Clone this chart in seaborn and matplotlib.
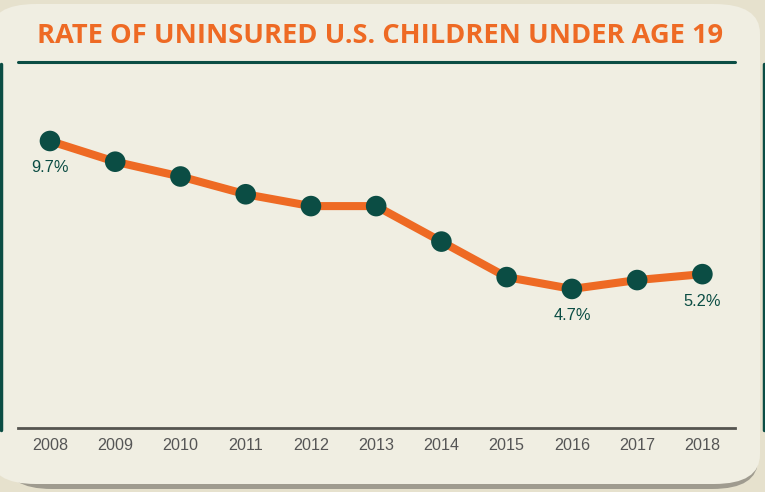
import numpy as np
import pandas as pd
import matplotlib
matplotlib.use("Agg")
import matplotlib.pyplot as plt
import seaborn as sns
from matplotlib.patches import FancyBboxPatch
from matplotlib.lines import Line2D

years = ["2008", "2009", "2010", "2011", "2012", "2013", "2014", "2015", "2016", "2017", "2018"]
rates = [9.7, 9.0, 8.5, 7.9, 7.5, 7.5, 6.3, 5.1, 4.7, 5.0, 5.2]
labelled = {"2008": "9.7%", "2016": "4.7%", "2018": "5.2%"}

orange = "#ee6a24"
green = "#0b4d44"
card = "#f0eee2"

sns.set_style("white")
plt.rcParams["font.family"] = ["Liberation Sans", "DejaVu Sans"]

fig = plt.figure(figsize=(7.65, 4.92), dpi=100)
fig.patch.set_facecolor("#e6e1cd")
W, H = 765, 492

# card with shadow
fig.add_artist(FancyBboxPatch((6 / W, 3 / H), 752 / W, 478 / H,
                              boxstyle="round,pad=0,rounding_size=0.06",
                              transform=fig.transFigure, fc="#8d8a80", ec="none", alpha=0.8, zorder=0))
fig.add_artist(FancyBboxPatch((-10 / W, 8 / H), 770 / W, 480 / H,
                              boxstyle="round,pad=0,rounding_size=0.06",
                              transform=fig.transFigure, fc=card, ec="none", zorder=0))
# green side bars
fig.add_artist(Line2D([1 / W, 1 / W], [1 - 64 / H, 1 - 430 / H], color=green, lw=2.5, transform=fig.transFigure))
fig.add_artist(Line2D([764 / W, 764 / W], [1 - 64 / H, 1 - 430 / H], color=green, lw=2.5, transform=fig.transFigure))
# title rule
fig.add_artist(Line2D([18 / W, 735 / W], [1 - 61.5 / H, 1 - 61.5 / H], color=green, lw=2.2, transform=fig.transFigure))

fig.text(380 / W, 1 - 36 / H, "RATE OF UNINSURED U.S. CHILDREN UNDER AGE 19",
         ha="center", va="center", color=orange, fontsize=19.6, fontweight="bold",
         family=["Open Sans", "DejaVu Sans"])

ax = fig.add_axes([18 / W, 1 - 428 / H, 717 / W, 366 / H])
ax.set_facecolor("none")
df = pd.DataFrame({"year": years, "rate": rates})
df["x"] = np.arange(len(years))
sns.lineplot(data=df, x="x", y="rate", ax=ax, color=orange, lw=5.8, zorder=2)
sns.scatterplot(data=df, x="x", y="rate", ax=ax, color=green, s=220, edgecolor="none", zorder=3)

for i, (yr, r) in enumerate(zip(years, rates)):
    if yr in labelled:
        ax.annotate(labelled[yr], (i, r), xytext=(0, -27), textcoords="offset pixels",
                    ha="center", va="center", color=green, fontsize=11.8)

ax.set_xlim(-0.49, 10.5)
ax.set_ylim(0, 12.37)
ax.set_xticks(df["x"])
ax.set_xticklabels(years)
ax.set_yticks([])
ax.set_xlabel("")
ax.set_ylabel("")
ax.tick_params(axis="x", length=0, pad=7, labelsize=11.6, labelcolor="#555555")
for s in ["top", "left", "right"]:
    ax.spines[s].set_visible(False)
ax.spines["bottom"].set_color("#55544f")
ax.spines["bottom"].set_linewidth(2)

fig.savefig("out.png", dpi=100, facecolor=fig.get_facecolor())
